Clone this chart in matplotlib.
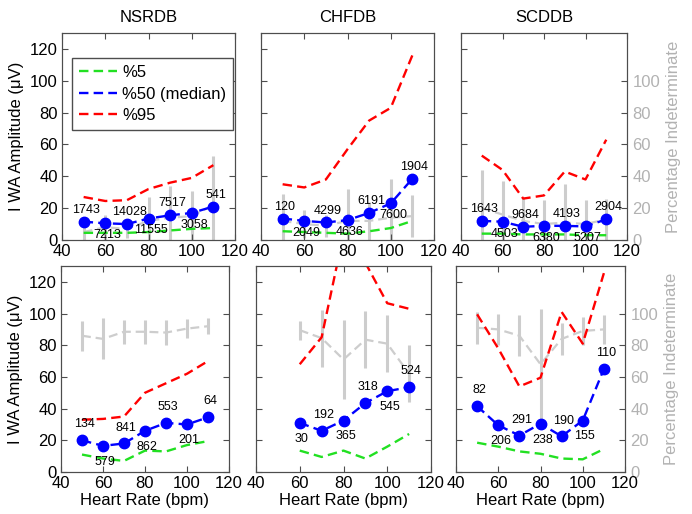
import matplotlib
matplotlib.use('Agg')
import matplotlib.pyplot as plt

plt.rcParams['font.family'] = ['Liberation Sans', 'DejaVu Sans']

# heart rate bins (bpm)
hr = [50, 60, 70, 80, 90, 100, 110]
hr_chf_row2 = [60, 70, 80, 90, 100, 110]

titles = ['NSRDB', 'CHFDB', 'SCDDB']

# ---- top row ----
nsr1_p5 = [4.5, 4.5, 4.5, 5, 6, 7, 7.5]
nsr1_p50 = [11.5, 10.5, 10, 13.5, 15.5, 17, 21]
nsr1_p95 = [27, 24.5, 25, 32, 36, 39, 47]
nsr1_n = [1743, 7213, 14028, 11555, 7517, 3058, 541]
nsr1_ind = [5, 8, 7, 12, 14, 15, 22]
nsr1_ind_err = [6, 8, 6, 15, 20, 16, 31]

chf1_p5 = [5.5, 5, 4.5, 4, 5.5, 7.5, 12]
chf1_p50 = [13.5, 12, 11, 12.5, 17, 23, 38.5]
chf1_p95 = [35, 33, 38, 57, 75, 83, 116]
chf1_n = [120, 2049, 4299, 4636, 6191, 7600, 1904]
chf1_ind = [12, 10, 9, 12, 12, 14, 15]
chf1_ind_err = [17, 9, 7, 20, 12, 24, 13]

scd1_p5 = [4, 4, 3.5, 3.5, 3.5, 3, 3]
scd1_p50 = [12, 11.5, 8.3, 8.9, 8.9, 8.5, 13]
scd1_p95 = [53, 44, 26, 28, 43, 38, 63]
scd1_n = [1643, 4503, 9684, 6380, 4193, 5207, 2904]
scd1_ind = [20, 16, 12, 10, 11, 10, 13]
scd1_ind_err = [24, 21, 15, 15, 24, 15, 13]

# ---- bottom row ----
nsr2_p5 = [11, 8.5, 7, 13.5, 13, 17, 19.5]
nsr2_p50 = [20, 16.5, 18, 26, 31, 30, 34.5]
nsr2_p95 = [33, 33.5, 35, 50, 56, 62, 70]
nsr2_n = [134, 579, 841, 862, 553, 201, 64]
nsr2_ind = [86, 84, 88.5, 88.5, 88, 90.5, 92]
nsr2_ind_err = [9.5, 13, 7.5, 7.5, 8, 6, 5]

chf2_p5 = [13.5, 9.5, 13.5, 8.5, 16, 24]
chf2_p50 = [31, 26, 32.5, 43.5, 51, 53.5]
chf2_p95 = [68, 85, 150, 132, 106.5, 103]
chf2_n = [30, 192, 365, 318, 545, 524]
chf2_ind = [89.5, 84.5, 71, 83.5, 81, 62]
chf2_ind_err = [6, 18, 25, 18, 18, 18]

scd2_p5 = [18.5, 16, 13, 11.5, 8.5, 8, 14.5]
scd2_p50 = [41.5, 29.5, 23, 30.5, 22.5, 32.5, 65]
scd2_p95 = [99.5, 78, 54, 59.5, 101, 81, 125.5]
scd2_n = [82, 206, 291, 238, 190, 155, 110]
scd2_ind = [91, 90, 86, 68, 84, 89, 90]
scd2_ind_err = [10, 10, 13, 35, 10, 9, 9]

panels = [
    [(hr, nsr1_p5, nsr1_p50, nsr1_p95, nsr1_n, nsr1_ind, nsr1_ind_err),
     (hr, chf1_p5, chf1_p50, chf1_p95, chf1_n, chf1_ind, chf1_ind_err),
     (hr, scd1_p5, scd1_p50, scd1_p95, scd1_n, scd1_ind, scd1_ind_err)],
    [(hr, nsr2_p5, nsr2_p50, nsr2_p95, nsr2_n, nsr2_ind, nsr2_ind_err),
     (hr_chf_row2, chf2_p5, chf2_p50, chf2_p95, chf2_n, chf2_ind, chf2_ind_err),
     (hr, scd2_p5, scd2_p50, scd2_p95, scd2_n, scd2_ind, scd2_ind_err)],
]

# axes boxes in pixels: left, right, top, bottom
W, H = 692, 514
boxes = [
    [(62, 235, 33, 240), (261, 434, 33, 240), (461, 627, 33, 240)],
    [(61, 229, 266, 472), (256, 431, 266, 472), (456, 625, 266, 472)],
]
label_off = [7.5, 10]

green = '#22e022'
gray = '#cdcdcd'
gray_txt = '#b2b2b2'
frame = '#4d4d4d'
dash = (4, 2.2)

fig = plt.figure(figsize=(W / 100, H / 100), dpi=100)

for r in range(2):
    for c in range(3):
        x, p5, p50, p95, n, ind, ind_err = panels[r][c]
        l, rr, t, b = boxes[r][c]
        ax = fig.add_axes([l / W, 1 - b / H, (rr - l) / W, (b - t) / H])
        ax2 = ax.twinx()

        ax2.errorbar(x, ind, yerr=ind_err, color=gray, lw=1.6, elinewidth=2.2,
                     capsize=0, dashes=dash)
        ax2.set_ylim(0, 130)
        ax2.set_yticks([0, 20, 40, 60, 80, 100])

        ax.plot(x, p5, color=green, lw=1.7, dashes=dash, label='%5')
        ax.plot(x, p50, color='blue', lw=1.7, dashes=dash, label='%50 (median)')
        ax.plot(x, p50, 'o', color='blue', ms=7.5)
        ax.plot(x, p95, color='red', lw=1.7, dashes=dash, label='%95')

        for xi, yi, ni in zip(x, p50, n):
            above = (xi // 10) % 2 == 1
            ax.text(xi + 1, yi + label_off[r] if above else yi - label_off[r], str(ni),
                    ha='center', va='center', fontsize=9)

        ax.set_zorder(ax2.get_zorder() + 1)
        ax.patch.set_visible(False)

        ax.set_xlim(40, 120)
        ax.set_ylim(0, 130)
        ax.set_xticks([40, 60, 80, 100, 120])
        ax.set_yticks([0, 20, 40, 60, 80, 100, 120])
        ax.tick_params(direction='in', top=True, length=4, labelsize=12, color=frame, pad=3)
        ax2.tick_params(direction='in', length=4, labelsize=12, color=frame,
                        labelcolor=gray_txt, pad=4)
        for sp in list(ax.spines.values()) + list(ax2.spines.values()):
            sp.set_color(frame)
            sp.set_linewidth(0.8)

        if c == 0:
            ax.set_ylabel('I WA Amplitude (\u03bcV)', fontsize=12, labelpad=4)
        else:
            ax.set_yticklabels([])
        if c == 2:
            ax2.set_ylabel('Percentage Indeterminate', fontsize=12, color=gray_txt, labelpad=4)
        else:
            ax2.set_yticklabels([])
        if r == 0:
            ax.set_title(titles[c], fontsize=12, pad=8)
        else:
            ax.set_xlabel('Heart Rate (bpm)', fontsize=12, labelpad=1)

        if r == 0 and c == 0:
            ax.legend(loc='upper left', bbox_to_anchor=(0.056, 0.878), borderaxespad=0,
                      fontsize=12, fancybox=False, framealpha=1, edgecolor=frame,
                      handlelength=2.3, handletextpad=0.3, labelspacing=0.38,
                      borderpad=0.42)

fig.savefig('out.png', dpi=100)
